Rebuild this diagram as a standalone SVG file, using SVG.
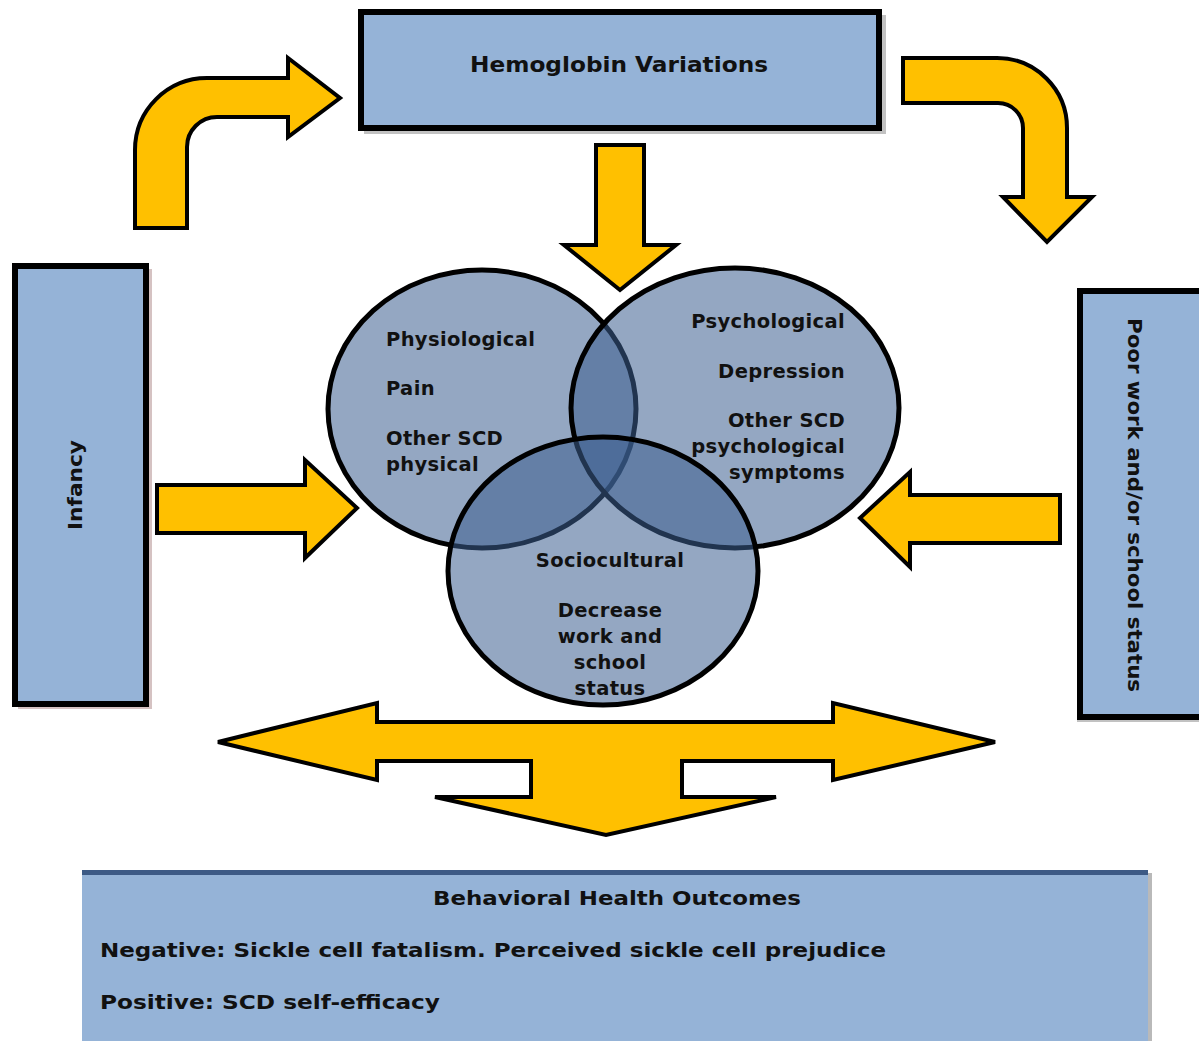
<svg xmlns="http://www.w3.org/2000/svg" width="1199" height="1041" viewBox="0 0 1199 1041">
<defs>
<style>
.box{fill:#95b3d7;stroke:#000;stroke-width:6}
.shadow{fill:#9a9a9a;opacity:0.6}
.arrow{fill:#ffc000;stroke:#000;stroke-width:4;stroke-linejoin:miter}
.venn{fill:#3c5f90;fill-opacity:0.55;stroke:#000;stroke-width:5}
.t{font-family:"DejaVu Sans",Verdana,sans-serif;font-weight:bold;fill:#111}
.c16{font-size:19.5px;letter-spacing:0.35px}
</style>
</defs>
<rect width="1199" height="1041" fill="#fff"/>

<g id="connectors">
<path class="arrow" d="M135,228 L135,150 A72,72 0 0 1 207,78 L288,78 L288,58 L340,98 L288,137 L288,117 L217,117 A30,30 0 0 0 187,147 L187,228 Z"/>
<path class="arrow" d="M903,58 L997,58 A70,70 0 0 1 1067,128 L1067,197 L1092,197 L1047,242 L1003,197 L1023,197 L1023,128 A25,25 0 0 0 998,103 L903,103 Z"/>
<path class="arrow" d="M596,145 L644,145 L644,245 L676,245 L620,290 L564,245 L596,245 Z"/>
<path class="arrow" d="M157,485 L305,485 L305,460 L357,508 L305,558 L305,533 L157,533 Z"/>
<path class="arrow" d="M1060,495 L910,495 L910,472 L860,518 L910,567 L910,543 L1060,543 Z"/>
<path class="arrow" d="M218,742 L377,703 L377,722 L833,722 L833,703 L995,742 L833,780 L833,761 L682,761 L682,797 L776,797 L606,835 L435,797 L531,797 L531,761 L377,761 L377,780 Z"/>
</g>

<g id="node-hemoglobin">
<rect class="shadow" x="364" y="15" width="522" height="119"/>
<rect class="box" x="361" y="12" width="518" height="116"/>
<text class="t" x="619" y="72" font-size="20.5" text-anchor="middle" textLength="298" lengthAdjust="spacingAndGlyphs">Hemoglobin Variations</text>
</g>

<g id="node-infancy">
<rect x="18" y="269" width="134" height="440" fill="#b99a9a" opacity="0.6"/>
<rect class="box" x="15" y="266" width="131" height="438"/>
<text class="t" transform="translate(82,485) rotate(-90)" font-size="20" text-anchor="middle" textLength="90" lengthAdjust="spacingAndGlyphs">Infancy</text>
</g>

<g id="node-poorwork">
<rect class="shadow" x="1077" y="294" width="130" height="428"/>
<rect class="box" x="1080" y="291" width="130" height="426"/>
<text class="t" transform="translate(1128,505) rotate(90)" font-size="19" text-anchor="middle" textLength="374" lengthAdjust="spacingAndGlyphs">Poor work and/or school status</text>
</g>

<g id="node-venn">
<ellipse id="node-physiological" class="venn" cx="482" cy="409" rx="154" ry="139"/>
<ellipse id="node-psychological" class="venn" cx="735" cy="408" rx="164" ry="140"/>
<ellipse id="node-sociocultural" class="venn" cx="603" cy="571" rx="155" ry="134"/>
<g class="t c16">
<text x="386" y="346">Physiological</text>
<text x="386" y="395">Pain</text>
<text x="386" y="445">Other SCD</text>
<text x="386" y="471">physical</text>
</g>
<g class="t c16" text-anchor="end">
<text x="845" y="328">Psychological</text>
<text x="845" y="378">Depression</text>
<text x="845" y="427">Other SCD</text>
<text x="845" y="453">psychological</text>
<text x="845" y="479">symptoms</text>
</g>
<g class="t c16" text-anchor="middle">
<text x="610" y="567">Sociocultural</text>
<text x="610" y="617">Decrease</text>
<text x="610" y="643">work and</text>
<text x="610" y="669">school</text>
<text x="610" y="695">status</text>
</g>
</g>

<g id="node-outcomes">
<rect x="86" y="873" width="1066" height="170" fill="#8a8a8a" opacity="0.6"/>
<rect x="82" y="870" width="1066" height="175" fill="#95b3d7"/>
<rect x="82" y="870" width="1066" height="5" fill="#3d5a85"/>
<text class="t" x="617" y="905" font-size="19" text-anchor="middle" textLength="368" lengthAdjust="spacingAndGlyphs">Behavioral Health Outcomes</text>
<text class="t" x="100" y="957" font-size="19" textLength="786" lengthAdjust="spacingAndGlyphs">Negative: Sickle cell fatalism. Perceived sickle cell prejudice</text>
<text class="t" x="100" y="1009" font-size="19" textLength="340" lengthAdjust="spacingAndGlyphs">Positive: SCD self-efficacy</text>
</g>
</svg>
